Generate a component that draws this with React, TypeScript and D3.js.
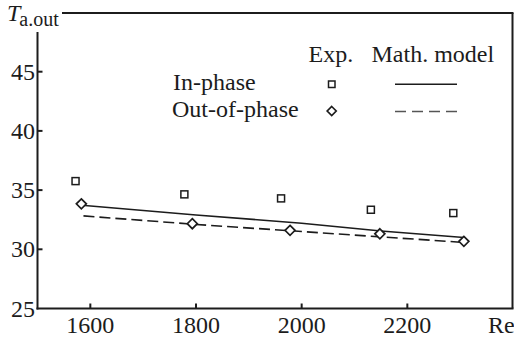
import React from "react";
import * as d3 from "d3";

const xTicks = [1600, 1800, 2000, 2200];
const yTicks = [25, 30, 35, 40, 45];

const inPhaseExp: [number, number][] = [
  [1572, 35.76], [1778, 34.64], [1961, 34.3], [2131, 33.34], [2287, 33.06],
];
const outPhaseExp: [number, number][] = [
  [1583, 33.84], [1793, 32.16], [1978, 31.6], [2148, 31.31], [2307, 30.67],
];
const inPhaseModel: [number, number][] = [
  [1584, 33.72], [1800, 32.9], [2000, 32.2], [2150, 31.55], [2307, 31.0],
];
const outPhaseModel: [number, number][] = [
  [1587, 32.82], [1800, 32.1], [2000, 31.5], [2150, 31.05], [2300, 30.6],
];

const W = 514;
const H = 344;
const FONT = "Liberation Serif, Tinos, Times New Roman, DejaVu Serif, serif";
const INK = "#1c1c1c";

export default function App() {
  const x = d3.scaleLinear().domain([1500, 2400]).range([37.5, 513]);
  const y = d3.scaleLinear().domain([25, 50]).range([308.5, 12.5]);
  const line = d3
    .line<[number, number]>()
    .x((d) => x(d[0]))
    .y((d) => y(d[1]));

  const left = 37.5;
  const right = 512.5;
  const bottom = 308.5;
  const top = 13;

  const diamond = (cx: number, cy: number, r: number) =>
    `M${cx},${cy - r}L${cx + r},${cy}L${cx},${cy + r}L${cx - r},${cy}Z`;

  const ts = { fontFamily: FONT };

  return (
    <svg
      width={W}
      height={H}
      style={{ position: "absolute", left: 0, top: 0, background: "#fff", fontFamily: FONT }}
    >
      <rect width={W} height={H} fill="#fff" />
      {/* frame */}
      <g stroke={INK} strokeWidth={2} fill="none">
        <line x1={left} y1={32} x2={left} y2={bottom + 1} />
        <line x1={left - 1} y1={bottom} x2={right + 1} y2={bottom} />
        <line x1={right} y1={top} x2={right} y2={bottom} />
        <line x1={62} y1={top} x2={right + 1} y2={top} />
      </g>
      {/* x ticks */}
      {xTicks.map((t) => (
        <g key={"x" + t}>
          <line x1={x(t)} x2={x(t)} y1={bottom} y2={bottom - 5} stroke={INK} strokeWidth={2} />
          <text x={x(t)} y={333} textAnchor="middle" fontSize={24} fill={INK} style={ts}>
            {t}
          </text>
        </g>
      ))}
      <text x={488} y={332.5} fontSize={24} fill={INK} style={ts}>
        Re
      </text>
      {/* y ticks */}
      {yTicks.map((t) => (
        <g key={"y" + t}>
          {t > 25 && (
            <line x1={left} x2={left + 5} y1={y(t)} y2={y(t)} stroke={INK} strokeWidth={2} />
          )}
          <text x={35} y={y(t) + 8} textAnchor="end" fontSize={24} fill={INK} style={ts}>
            {t}
          </text>
        </g>
      ))}
      {/* y title */}
      <text x={7} y={20.5} fontSize={24} fill={INK} style={ts}>
        <tspan fontStyle="italic">T</tspan>
        <tspan fontSize={20} dy={5.5} dx={-1}>a.out</tspan>
      </text>
      {/* model lines */}
      <path d={line(inPhaseModel) || ""} fill="none" stroke={INK} strokeWidth={1.6} />
      <path
        d={line(outPhaseModel) || ""}
        fill="none"
        stroke={INK}
        strokeWidth={1.6}
        strokeDasharray="11 5"
      />
      {/* experimental markers */}
      {inPhaseExp.map((d, i) => (
        <rect
          key={"s" + i}
          x={x(d[0]) - 3.5}
          y={y(d[1]) - 3.5}
          width={7}
          height={7}
          fill="#fff"
          stroke={INK}
          strokeWidth={1.5}
        />
      ))}
      {outPhaseExp.map((d, i) => (
        <path
          key={"d" + i}
          d={diamond(x(d[0]), y(d[1]), 5)}
          fill="#fff"
          stroke={INK}
          strokeWidth={1.7}
        />
      ))}
      {/* legend */}
      <g fill={INK} fontSize={24}>
        <text x={308.5} y={61.7} style={ts}>Exp.</text>
        <text x={371.5} y={61.7} style={ts}>Math. model</text>
        <text x={173} y={90} style={ts}>In-phase</text>
        <text x={172} y={117} style={ts}>Out-of-phase</text>
      </g>
      <rect x={328.5} y={81} width={6.5} height={6.5} fill="#fff" stroke={INK} strokeWidth={1.5} />
      <path d={diamond(331.7, 111, 4.5)} fill="#fff" stroke={INK} strokeWidth={1.7} />
      <line x1={395} x2={457} y1={84.3} y2={84.3} stroke={INK} strokeWidth={1.6} />
      <line
        x1={395}
        x2={457}
        y1={111.5}
        y2={111.5}
        stroke="#555"
        strokeWidth={1.6}
        strokeDasharray="11 6"
      />
    </svg>
  );
}
